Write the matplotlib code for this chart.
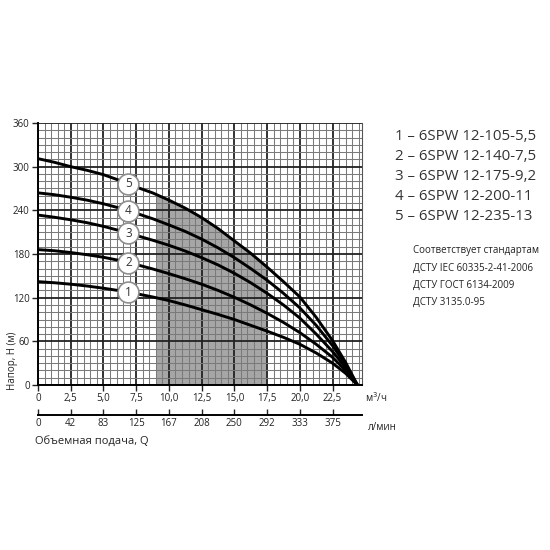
import numpy as np
import matplotlib.pyplot as plt
from matplotlib.ticker import MultipleLocator

plt.rcParams['font.family'] = ['Open Sans', 'DejaVu Sans']

# flow, m3/h
Q = np.array([0, 1.25, 2.5, 3.75, 5, 6.25, 7.5, 8.75, 10, 11.25, 12.5, 13.75,
              15, 16.25, 17.5, 18.75, 20, 21.25, 22.5, 23.5, 24.4])

# head, m  (curves 1..5)
H1 = np.array([142, 140.5, 138.5, 136, 133, 129.5, 125.5, 121, 116, 110, 103.5, 97,
               90, 82, 74, 65.5, 56, 44, 30, 16, 0])
H2 = np.array([186, 184.5, 182, 179, 175.5, 171, 165.5, 159.5, 153, 146, 138.5, 130,
               120.5, 110, 98.5, 86, 72, 56, 38, 20, 0])
H3 = np.array([233.5, 230.5, 227, 223, 218, 212, 205.5, 199, 192, 184, 175, 165,
               153.5, 140.5, 126, 110, 92, 70, 46, 24, 0])
H4 = np.array([264, 261.5, 258, 254, 249, 243, 236, 228.5, 220, 211, 200.5, 188.5,
               175, 160, 144, 126, 106, 82, 54, 28, 0])
H5 = np.array([311, 306, 300, 295, 289, 281, 272, 264, 254, 243, 230, 215,
               198, 181, 162, 142, 121, 93, 61, 31, 0])
curves = [H1, H2, H3, H4, H5]

models = ['1 – 6SPW 12-105-5,5', '2 – 6SPW 12-140-7,5', '3 – 6SPW 12-175-9,2',
          '4 – 6SPW 12-200-11', '5 – 6SPW 12-235-13']
standards = ['Соответствует стандартам', 'ДСТУ IEC 60335-2-41-2006',
             'ДСТУ ГОСТ 6134-2009', 'ДСТУ 3135.0-95']

# working range (shaded)
q_lo, q_hi = 9.0, 17.5
label_q = 6.9

q_ticks = [0, 2.5, 5, 7.5, 10, 12.5, 15, 17.5, 20, 22.5]
q_labels = ['0', '2,5', '5,0', '7,5', '10,0', '12,5', '15,0', '17,5', '20,0', '22,5']
lpm_labels = ['0', '42', '83', '125', '167', '208', '250', '292', '333', '375']
h_ticks = [0, 60, 120, 180, 240, 300, 360]

fig = plt.figure(figsize=(5.5, 5.5), dpi=100)
ax = fig.add_axes([38/550, 165/550, 324/550, 262/550])
ax.set_xlim(0, 24.75)
ax.set_ylim(0, 360)

# grid
ax.xaxis.set_minor_locator(MultipleLocator(0.5))
ax.yaxis.set_minor_locator(MultipleLocator(10))
ax.set_xticks(q_ticks)
ax.set_xticklabels(q_labels)
ax.set_yticks(h_ticks)
ax.grid(which='minor', color='#7a7a7a', lw=0.75, zorder=1)
ax.grid(which='major', color='#222222', lw=1.3, zorder=1)
ax.set_axisbelow(True)

# shaded area
qs = np.concatenate([[q_lo], Q[(Q > q_lo) & (Q < q_hi)], [q_hi]])
hs = np.interp(qs, Q, H5)
ax.fill_between(qs, 0, hs, color='#a6a6a6', lw=0, zorder=0.5)

for i, H in enumerate(curves):
    ax.plot(Q, H, color='black', lw=2.1, zorder=3, solid_capstyle='butt')
    hy = np.interp(label_q, Q, H)
    ax.plot(label_q, hy, 'o', ms=15, mfc='white', mec='#8f8f8f', mew=1.2, zorder=4)
    ax.text(label_q, hy, str(i + 1), ha='center', va='center', fontsize=8.5,
            color='#333333', zorder=5)

ax.spines['top'].set_visible(False)
ax.spines['right'].set_color('#555555')
ax.spines['right'].set_linewidth(0.8)
ax.spines['left'].set_linewidth(1.4)
ax.spines['bottom'].set_linewidth(1.4)
ax.tick_params(which='major', length=4, width=1, labelsize=7, colors='#222222', pad=2)
ax.tick_params(which='minor', length=0)

# second flow axis, l/min
sec = ax.secondary_xaxis(-0.115, functions=(lambda x: x * 1000 / 60, lambda x: x * 60 / 1000))
sec.set_xticks([q * 1000 / 60 for q in q_ticks])
sec.set_xticklabels(lpm_labels)
sec.spines['bottom'].set_linewidth(1.4)
sec.tick_params(length=4, width=1, labelsize=7, colors='#222222', pad=2, direction='in')

fig.text(365/550, 1 - 398/550, 'м$^3$/ч', fontsize=7, color='#222222', va='center')
fig.text(368/550, 1 - 428/550, 'л/мин', fontsize=7, color='#222222', va='center')
fig.text(35/550, 1 - 441/550, 'Объемная подача, Q', fontsize=8, color='#222222', va='center')
fig.text(12/550, 1 - 390/550, 'Напор, Н (м)', fontsize=7, color='#222222',
         rotation=90, ha='center', va='bottom')

for i, m in enumerate(models):
    fig.text(395/550, 1 - (137 + 20 * i)/550, m, fontsize=10.8, color='#333333', va='center')
for i, s in enumerate(standards):
    fig.text(413/550, 1 - (251 + 17 * i)/550, s, fontsize=7, color='#222222', va='center')

fig.savefig('out.png', dpi=100)
